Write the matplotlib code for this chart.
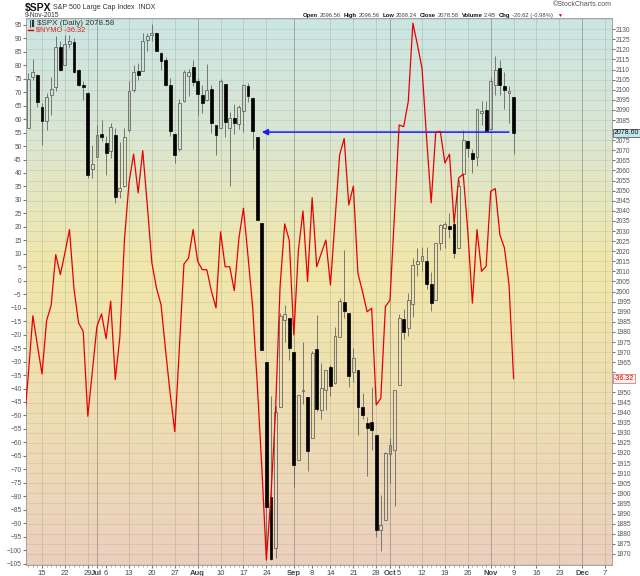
import numpy as np
import matplotlib
matplotlib.use('Agg')
import matplotlib.pyplot as plt
from matplotlib.colors import LinearSegmentedColormap
from matplotlib.lines import Line2D

plt.rcParams['font.family'] = ['Liberation Sans', 'DejaVu Sans']

# trading day index, 0 = 15-Jun-2015 (first day -3 = 10-Jun)
day = np.arange(-3, 104)
spx_open = [2081.1, 2106.2, 2107.4, 2091.3, 2084.4, 2097.6, 2101.6, 2121.0, 2112.5, 2122.7,
            2123.7, 2110.0, 2102.6, 2098.4, 2060.9, 2066.6, 2078.1, 2073.7, 2069.5, 2077.8,
            2049.7, 2052.5, 2079.9, 2099.8, 2109.2, 2109.2, 2124.5, 2126.9, 2127.9, 2118.2,
            2114.5, 2102.6, 2078.1, 2070.4, 2094.6, 2106.7, 2111.3, 2104.5, 2097.3, 2095.1,
            2100.6, 2082.4, 2080.9, 2102.7, 2081.1, 2086.2, 2083.2, 2089.7, 2101.7, 2095.7,
            2076.6, 2034.1, 1965.2, 1898.1, 1872.8, 1942.8, 1986.1, 1986.7, 1970.1, 1916.5,
            1950.8, 1947.8, 1927.2, 1971.5, 1941.3, 1951.2, 1962.8, 1954.6, 1977.7, 1995.0,
            1989.3, 1960.3, 1961.2, 1942.7, 1934.8, 1935.6, 1928.9, 1881.9, 1886.8, 1919.5,
            1921.3, 1953.8, 1986.3, 1982.0, 1994.0, 2013.7, 2015.3, 2015.0, 2003.5, 1996.0,
            2024.1, 2031.5, 2032.7, 2033.5, 2021.6, 2058.3, 2074.8, 2068.7, 2066.6, 2088.4,
            2089.8, 2080.8, 2102.6, 2110.6, 2101.7, 2098.6, 2096.6]
spx_high = [2108.3, 2115.0, 2107.6, 2093.5, 2098.4, 2106.2, 2126.5, 2124.4, 2127.3, 2127.3,
            2125.4, 2110.5, 2104.2, 2099.0, 2072.8, 2082.4, 2085.2, 2077.0, 2083.6, 2081.1,
            2074.3, 2081.1, 2104.2, 2112.5, 2113.3, 2128.2, 2128.2, 2132.8, 2128.5, 2118.5,
            2116.0, 2105.9, 2078.6, 2095.6, 2110.0, 2110.5, 2114.5, 2105.7, 2102.5, 2112.8,
            2102.6, 2082.4, 2105.4, 2102.7, 2089.1, 2092.9, 2092.5, 2102.9, 2103.5, 2096.2,
            2076.6, 2034.1, 1965.2, 1948.0, 1943.1, 1989.6, 1993.5, 1986.7, 1970.1, 1948.9,
            1975.0, 1947.8, 1970.4, 1988.4, 1964.5, 1961.1, 1963.6, 1982.6, 1996.7, 2020.6,
            1989.3, 1972.0, 1961.2, 1949.5, 1938.0, 1952.6, 1928.9, 1899.2, 1920.5, 1927.2,
            1951.4, 1989.0, 1991.6, 1999.3, 2016.5, 2021.6, 2022.3, 2022.3, 2009.6, 2024.2,
            2033.5, 2034.5, 2039.0, 2037.0, 2055.2, 2080.3, 2075.1, 2070.4, 2090.4, 2094.3,
            2094.3, 2106.2, 2116.6, 2114.6, 2108.8, 2101.9, 2096.6]
spx_low = [2081.1, 2105.0, 2091.3, 2072.8, 2080.3, 2087.7, 2099.3, 2109.2, 2112.5, 2120.5,
           2108.3, 2101.7, 2095.1, 2056.3, 2056.3, 2066.6, 2074.8, 2058.0, 2066.0, 2043.9,
           2046.4, 2052.0, 2079.0, 2099.0, 2105.0, 2109.2, 2119.0, 2124.0, 2119.0, 2110.0,
           2101.7, 2077.0, 2063.7, 2069.5, 2094.0, 2096.8, 2102.0, 2087.4, 2088.5, 2094.3,
           2078.6, 2067.9, 2080.9, 2076.5, 2052.1, 2078.3, 2080.6, 2079.3, 2094.1, 2070.5,
           2035.7, 1970.9, 1867.0, 1867.1, 1867.8, 1942.8, 1975.2, 1965.9, 1903.1, 1916.5,
           1944.4, 1911.2, 1927.2, 1941.0, 1936.7, 1941.3, 1948.0, 1954.0, 1977.4, 1986.8,
           1952.9, 1955.0, 1929.0, 1937.0, 1908.6, 1921.5, 1878.6, 1871.2, 1886.8, 1905.0,
           1893.5, 1953.8, 1976.6, 1977.9, 1987.5, 2007.6, 2010.0, 2001.3, 1990.2, 1996.0,
           2020.5, 2021.6, 2026.6, 2016.7, 2021.6, 2057.0, 2066.5, 2058.8, 2062.3, 2082.4,
           2079.1, 2080.8, 2097.5, 2097.6, 2090.4, 2083.7, 2068.2]
spx_close = [2105.2, 2108.9, 2094.1, 2084.4, 2096.3, 2100.4, 2121.2, 2110.0, 2122.9, 2124.2,
             2108.6, 2102.3, 2101.5, 2057.6, 2063.1, 2077.4, 2076.8, 2068.8, 2081.3, 2046.7,
             2051.3, 2076.6, 2099.6, 2109.0, 2107.4, 2124.3, 2126.6, 2128.3, 2119.2, 2114.2,
             2102.2, 2079.7, 2067.6, 2093.3, 2108.6, 2108.6, 2103.8, 2098.0, 2093.3, 2099.8,
             2083.6, 2077.6, 2104.2, 2084.1, 2086.1, 2083.4, 2091.5, 2102.4, 2096.9, 2079.6,
             2035.7, 1970.9, 1893.2, 1867.6, 1940.5, 1987.7, 1988.9, 1972.2, 1913.9, 1948.9,
             1951.1, 1921.2, 1969.4, 1942.0, 1952.3, 1961.1, 1953.0, 1978.1, 1995.3, 1990.2,
             1958.0, 1967.0, 1942.7, 1938.8, 1932.2, 1931.3, 1881.8, 1884.1, 1920.0, 1923.8,
             1951.4, 1987.1, 1979.9, 1995.8, 2013.4, 2014.9, 2017.5, 2003.7, 1994.2, 2023.9,
             2033.1, 2033.7, 2030.8, 2018.9, 2052.5, 2075.2, 2071.2, 2065.9, 2090.4, 2089.4,
             2079.4, 2104.1, 2109.8, 2102.3, 2099.9, 2099.2, 2078.6]

# $NYMO, one more day on the left (-4 = 9-Jun)
nymo_day = np.arange(-4, 104)
nymo = [-55, -35, -13, -24, -34.6, -14.8, -9.1, 9.7, 2.3, 10.3,
        19.0, -3.3, -15.7, -18.8, -50.3, -33.6, -16.9, -12.3, -21.5, -7.6,
        -36.7, -21, 15, 36.3, 47.0, 32.6, 48.3, 28, 6.6, -2.7,
        -8.9, -26, -42, -56, -25, 6.2, 8.4, 19.0, 7.2, 4.1,
        4.1, -3.9, -10.1, 18.2, 5.2, 5.2, -3.7, 15.7, 26.9, 9,
        -9.6, -38, -69, -103.6, -80, -48.6, -2, 21.1, 15.1, -20.1,
        11.4, 25.9, -0.3, 30.8, 5.2, 10.2, 15.1, -1.6, 22.5, 46.7,
        52.8, 28.1, 35.1, 2.7, -4.0, -11.5, -10.2, -46.1, -43.6, -9.6,
        -7.2, 25, 57.8, 57.2, 66.6, 95.6, 87.6, 78.9, 53, 28.9,
        55.2, 55.4, 43.7, 47.0, 21.4, 38.1, 39.6, 18.3, -8.3, 19.0,
        3.5, 5.4, 33.2, 34.2, 17.1, 12.2, -1.4, -36.32]

tick_pos = [0, 5, 10, 12, 14, 19, 24, 29, 34, 39, 44, 49, 55, 59, 63, 68, 73, 76, 78,
            83, 88, 93, 98, 103, 108, 113, 118, 123]
tick_lab = ['15', '22', '29', 'Jul', '6', '13', '20', '27', 'Aug', '10', '17', '24', 'Sep',
            '8', '14', '21', '28', 'Oct', '5', '12', '19', '26', 'Nov', '9', '16', '23', 'Dec', '7']
months = ['Jul', 'Aug', 'Sep', 'Oct', 'Nov', 'Dec']
no_grid = ['6', '8', '5']  # day right after a month line, no gridline there

fig = plt.figure(figsize=(6.4, 5.76), dpi=100)
ax = fig.add_axes([0.0406, 0.0191, 0.9157, 0.9491])

# background gradient
cmap = LinearSegmentedColormap.from_list('bg', [(0, '#cae5e3'), (0.2, '#d9e6d4'),
                                                (0.45, '#f1e7ab'), (0.75, '#eedcb4'),
                                                (1, '#ebcfbe')])
grad = np.linspace(0, 1, 256).reshape(-1, 1)
ax.imshow(grad, aspect='auto', extent=[0, 1, 0, 1], transform=ax.transAxes, cmap=cmap, zorder=0)

ax.set_xlim(-3.5, 124.5)
ax.set_ylim(1864.5, 2135.4)

# grid
for p in np.arange(1865, 2136, 5):
    ax.axhline(p, color='#808070', alpha=0.22, lw=0.5, zorder=1)
for p, l in zip(tick_pos, tick_lab):
    if l in months:
        ax.axvline(p, color='#707060', alpha=0.5, lw=0.7, zorder=1)
    elif l not in no_grid:
        ax.axvline(p, color='#808070', alpha=0.28, lw=0.6, zorder=1)

# candles
o = np.array(spx_open)
h = np.array(spx_high)
lo = np.array(spx_low)
c = np.array(spx_close)
top = np.maximum(o, c)
bot = np.minimum(o, c)
ax.vlines(day, top, h, color='#666666', lw=0.6, zorder=2)
ax.vlines(day, lo, bot, color='#666666', lw=0.6, zorder=2)
up = c >= o
ax.bar(day[up], np.maximum(top - bot, 0.4)[up], bottom=bot[up], width=0.62,
       facecolor='none', edgecolor='#666666', lw=0.6, zorder=3)
ax.bar(day[~up], np.maximum(top - bot, 0.4)[~up], bottom=bot[~up], width=0.62,
       facecolor='black', edgecolor='black', lw=0.5, zorder=3)

# blue arrow back to the August breakdown
ax.annotate('', xy=(48, 2079), xytext=(102, 2079),
            arrowprops=dict(arrowstyle='-|>', color='#1a1aff', lw=1.1, mutation_scale=9,
                            shrinkA=0, shrinkB=0), zorder=4)

ax.set_xticks(tick_pos)
ax.set_xticklabels(tick_lab)
for t in ax.get_xticklabels():
    if t.get_text() in months:
        t.set_fontweight('bold')
        t.set_color('#222222')
ax.set_xticks(day, minor=True)
ax.tick_params(axis='x', which='major', labelsize=5.5, length=2, pad=1.5, colors='#777777',
               labelcolor='#444444')
ax.tick_params(axis='x', which='minor', length=1.2, color='#999999')
for s in ax.spines.values():
    s.set_color('#999999')
    s.set_linewidth(0.6)

# NYMO on the left scale
ax2 = ax.twinx()
ax2.plot(nymo_day, nymo, color='#e80000', lw=0.9, zorder=5)
ax2.set_ylim(-105.5, 97.4)
ax2.yaxis.tick_left()
ax2.set_yticks(np.arange(-105, 96, 5))
ax2.tick_params(axis='y', labelsize=4.8, length=2, pad=1, colors='#777777', labelcolor='#555555')
for s in ax2.spines.values():
    s.set_visible(False)

# price scale on the right (after twinx, which resets it)
ax.yaxis.tick_right()
price_ticks = np.arange(1870, 2131, 5)
ax.set_yticks(price_ticks)
# the labels that sit under the last-value tags are left blank
ax.set_yticklabels(['' if p in (2080, 1960, 1955) else str(p) for p in price_ticks])
ax.tick_params(axis='y', labelsize=4.8, length=2, pad=1, colors='#777777', labelcolor='#555555')

# last value tags on the right
ax.text(1.003, spx_close[-1], '%.2f' % spx_close[-1], transform=ax.get_yaxis_transform(),
        fontsize=5, va='center', ha='left', color='#111111', clip_on=False, zorder=10,
        bbox=dict(boxstyle='square,pad=0.1', fc='#bfe8ee', ec='#444444', lw=0.5))
ax2.text(1.003, nymo[-1], '%.2f' % nymo[-1], transform=ax2.get_yaxis_transform(),
         fontsize=5, va='center', ha='left', color='#dd0000', clip_on=False, zorder=10,
         bbox=dict(boxstyle='square,pad=0.1', fc='#f8f0ea', ec='#cc6666', lw=0.5))


def px(x, y):
    return x / 640, 1 - y / 576


# header
fig.text(*px(25, 7.5), '$SPX', fontsize=7.5, fontweight='bold', va='center', color='#111111')
fig.text(*px(53, 7.5), 'S&P 500 Large Cap Index  INDX', fontsize=5, va='center', color='#333333')
fig.text(*px(25, 15.5), '9-Nov-2015', fontsize=4.8, va='center', color='#333333')
fig.text(*px(612, 5), '\u00a9StockCharts.com', fontsize=5, va='center', ha='right', color='#555555')

# quote line, laid out word by word from x = 303 px
hdr = [('Open', True), ('2096.56', False), ('High', True), ('2096.56', False),
       ('Low', True), ('2068.24', False), ('Close', True), ('2078.58', False),
       ('Volume', True), ('2.4B', False), ('Chg', True), ('-20.62 (-0.98%)', False)]
r = fig.canvas.get_renderer()
xpos = 303
for s, b in hdr:
    t = fig.text(*px(xpos, 15.5), s, fontsize=4.2, va='center', fontweight='bold' if b else 'normal',
                 color='#111111' if b else '#444444')
    w = t.get_window_extent(renderer=r).width
    xpos += w + (1.5 if b else 3)
fig.text(*px(xpos + 1, 15.5), '\u25bc', fontsize=3.5, va='center', color='#cc0000')

# legend inside the chart
fig.add_artist(Line2D([px(30, 0)[0]] * 2, [px(0, 20)[1], px(0, 27)[1]], color='#333333', lw=0.6))
fig.add_artist(Line2D([px(33, 0)[0]] * 2, [px(0, 21)[1], px(0, 26)[1]], color='#333333', lw=1.6))
fig.text(*px(37, 23.5), '$SPX (Daily) 2078.58', fontsize=5.8, va='center', color='#333333')
fig.add_artist(Line2D([px(28, 0)[0], px(33, 0)[0]], [px(0, 30)[1]] * 2, color='#dd0000', lw=1))
fig.text(*px(36, 30.5), '$NYMO -36.32', fontsize=5.3, va='center', color='#dd2222')

fig.savefig('out.png', dpi=100)
